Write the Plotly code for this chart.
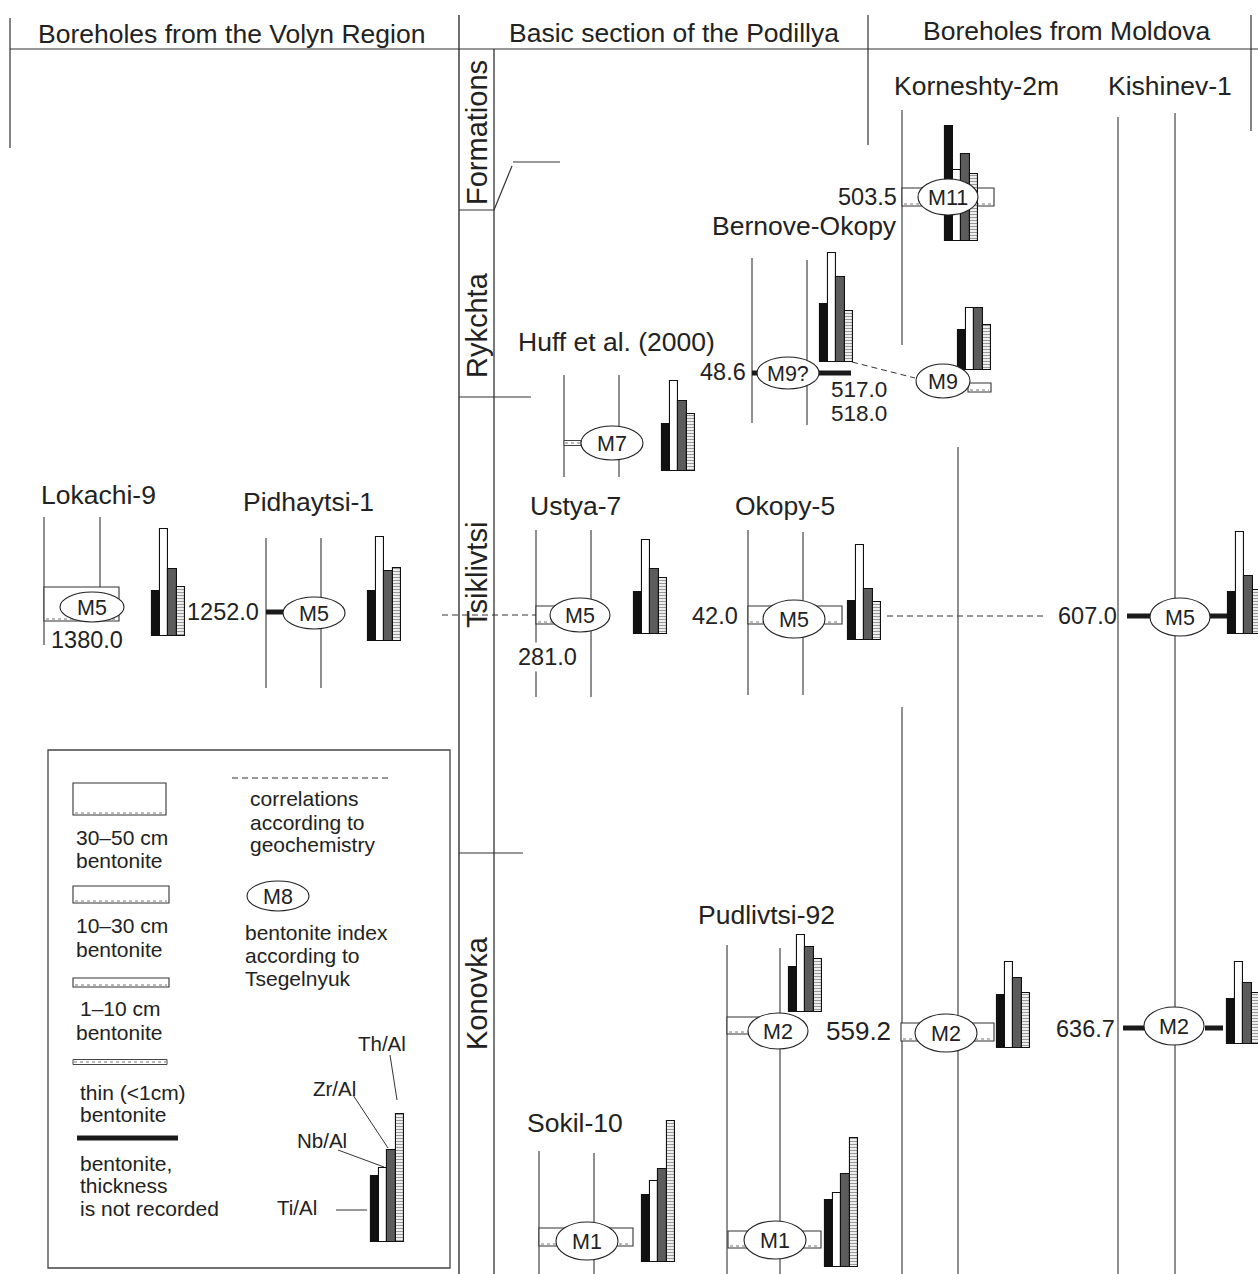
import plotly.graph_objects as go

W, H = 1258, 1274
FONT = "Liberation Sans, Arial, sans-serif"
INK = "#222222"
LINE = "#333333"

# ---- geochemical ratios of each bentonite (bar heights, relative units) ----
samples = ["Lokachi-9 M5", "Pidhaytsi-1 M5", "Huff M7", "Bernove-Okopy M9?",
           "Korneshty-2m M11", "Korneshty-2m M9", "Ustya-7 M5", "Okopy-5 M5",
           "Kishinev-1 M5", "Korneshty-2m M2", "Kishinev-1 M2", "Pudlivtsi-92 M2",
           "Sokil-10 M1", "Pudlivtsi-92 M1", "legend"]
ti_al = [45, 50, 47, 58, 115, 40, 42, 39, 42, 53, 45, 45, 67, 67, 66]
nb_al = [107, 104, 90, 109, 71, 62, 94, 95, 102, 86, 82, 77, 81, 74, 74]
zr_al = [67, 70, 70, 85, 87, 62, 65, 51, 58, 70, 61, 65, 93, 93, 92]
th_al = [49, 73, 57, 51, 67, 45, 56, 38, 44, 55, 51, 53, 141, 129, 128]

# placement of each bar group: left edge and baseline (page pixels)
group_left = [152, 368, 662, 820, 945, 958, 634, 848, 1228, 997, 1227, 789, 642, 825, 371]
group_base = [636, 641, 471, 362, 241, 370, 634, 640, 634, 1048, 1044, 1012, 1262, 1267, 1242]
BW = 8.2

# ---- boreholes ----
names = ["Lokachi-9", "Pidhaytsi-1", "Huff et al. (2000)", "Bernove-Okopy",
         "Korneshty-2m", "Kishinev-1", "Ustya-7", "Okopy-5", "Pudlivtsi-92", "Sokil-10"]
name_pos = [(98, 495), (308, 502), (616, 342), (804, 226), (976, 86), (1170, 86),
            (575, 506), (785, 506), (766, 915), (575, 1123)]

# borehole walls: (x, y_top, y_bottom)
walls = [(44, 517, 645), (100, 517, 587), (266, 538, 688), (321, 538, 688),
         (564, 375, 477), (619, 375, 477), (752, 258, 423), (807, 260, 425),
         (902, 110, 345), (902, 707, 1274), (958, 447, 1274),
         (1118, 117, 1274), (1175, 113, 1274), (536, 530, 697), (591, 530, 697),
         (748, 530, 695), (803, 532, 695), (727, 945, 1274), (780, 948, 1274),
         (539, 1151, 1274), (594, 1153, 1274)]

# bentonite beds drawn as boxes: (x0, y0, x1, y1)
beds = [(44, 587, 119, 621), (536, 606, 600, 624), (748, 606, 842, 624),
        (902, 188, 994, 206), (901, 1023, 994, 1041), (727, 1017, 760, 1034),
        (539, 1228, 633, 1246), (728, 1231, 821, 1248), (968, 383, 991, 392)]
# bentonite without recorded thickness: (x0, x1, y)
bold_beds = [(266, 283, 612), (752, 760, 373), (819, 851, 373),
             (1127, 1150, 616), (1210, 1227, 616), (1123, 1145, 1028), (1205, 1223, 1028)]
# thin (<1 cm) bentonite: (x0, x1, y)
thin_beds = [(564, 581, 443)]

# bentonite index ellipses: (cx, cy, rx, ry, label)
marks = [(92, 607, 32, 15, "M5"), (314, 613, 31, 16, "M5"), (612, 443, 31, 17, "M7"),
         (788, 373, 31, 16, "M9?"), (948, 197, 30, 18, "M11"), (943, 381, 27, 17, "M9"),
         (580, 615, 30, 17, "M5"), (794, 619, 31, 19, "M5"), (1180, 617, 30, 19, "M5"),
         (946, 1033, 31, 19, "M2"), (1174, 1026, 30, 19, "M2"), (778, 1031, 30, 18, "M2"),
         (587, 1241, 31, 19, "M1"), (775, 1240, 31, 19, "M1"), (278, 896, 31, 15, "M8")]

# depths (m): (text, x, y, anchor, size)
depths = [("1380.0", 87, 640, "center", 23.5), ("1252.0", 261, 612, "right", 23.5),
          ("48.6", 748, 372, "right", 23.5), ("517.0", 859, 389, "center", 22.5),
          ("518.0", 859, 413, "center", 22.5), ("503.5", 899, 197, "right", 23.5),
          ("281.0", 547, 657, "center", 23.5), ("42.0", 740, 616, "right", 23.5),
          ("607.0", 1119, 616, "right", 23.5), ("559.2", 893, 1031, "right", 26),
          ("636.7", 1117, 1029, "right", 23.5)]

formations = ["Formations", "Rykchta", "Tsiklivtsi", "Konovka"]
formation_y = [133, 325, 575, 993]

headers = ["Boreholes from the Volyn Region", "Basic section of the Podillya",
           "Boreholes from Moldova"]
header_pos = [(231, 34), (674, 33), (1066, 31)]

fig = go.Figure()

# mini bar charts: Ti/Al, Nb/Al, Zr/Al, Th/Al
bar_styles = [
    ("Ti/Al", ti_al, dict(color="#111111")),
    ("Nb/Al", nb_al, dict(color="#ffffff")),
    ("Zr/Al", zr_al, dict(color="#5c5c5c")),
    ("Th/Al", th_al, dict(color="#ffffff",
                          pattern=dict(shape="-", fgcolor="#333333", bgcolor="#ffffff",
                                       size=3, solidity=0.45))),
]
for k, (nm, vals, mk) in enumerate(bar_styles):
    fig.add_trace(go.Bar(
        name=nm,
        x=[gx + (k + 0.5) * BW for gx in group_left],
        y=[-v for v in vals],
        base=group_base,
        width=BW,
        marker=dict(line=dict(color="#111111", width=1.1), **mk),
        hovertext=samples,
        showlegend=False,
    ))

shapes = []


def seg(x0, y0, x1, y1, w=1.2, color=LINE, dash=None, layer="below"):
    ln = dict(color=color, width=w)
    if dash:
        ln["dash"] = dash
    shapes.append(dict(type="line", xref="x", yref="y", x0=x0, y0=y0, x1=x1, y1=y1,
                       line=ln, layer=layer))


def bed_box(x0, y0, x1, y1, layer="below"):
    shapes.append(dict(type="rect", xref="x", yref="y", x0=x0, y0=y0, x1=x1, y1=y1,
                       fillcolor="white", line=dict(color=LINE, width=1.1), layer=layer))
    seg(x0 + 2, y1 - 2, x1 - 2, y1 - 2, w=1, color="#777777", dash="dot", layer=layer)


def thin_bed(x0, x1, y, layer="below"):
    shapes.append(dict(type="rect", xref="x", yref="y", x0=x0, y0=y - 2.5, x1=x1, y1=y + 2.5,
                       fillcolor="white", line=dict(color="#444444", width=1), layer=layer))
    seg(x0 + 1, y, x1 - 1, y, w=1, color="#777777", dash="dot", layer=layer)


# frame of the correlation panel
seg(10, 18, 10, 148)
seg(10, 49, W, 49)
seg(459, 15, 459, H, w=1.4)
seg(494, 49, 494, H, w=1.3)
seg(868, 15, 868, 145)
seg(1251, 15, 1251, 131)
seg(459, 210, 494, 210)
seg(494, 210, 512, 166)
seg(513, 162, 560, 162)
seg(459, 397, 531, 397)
seg(459, 853, 523, 853)

# borehole walls
for x, y0, y1 in walls:
    seg(x, y0, x, y1, w=1.1)

# correlation lines
seg(442, 615, 536, 615, w=1, dash="6px,4px")
seg(887, 616, 1045, 616, w=1, dash="6px,4px")
seg(852, 362, 915, 378, w=1, dash="6px,4px")

for b in beds:
    bed_box(*b)
for x0, x1, y in bold_beds:
    seg(x0, y, x1, y, w=5, color="#1a1a1a")
for x0, x1, y in thin_beds:
    thin_bed(x0, x1, y)

# legend frame and symbols
shapes.append(dict(type="rect", xref="x", yref="y", x0=48, y0=750, x1=450, y1=1268,
                   line=dict(color="#444444", width=1.3), layer="below"))
bed_box(73, 783, 166, 815)
bed_box(73, 886, 169, 903)
bed_box(73, 978, 169, 987)
thin_bed(73, 167, 1062)
seg(77, 1138, 178, 1138, w=5, color="#1a1a1a")
seg(232, 778, 388, 778, w=1, dash="6px,4px")
# leaders to the legend bars
seg(390, 1055, 397, 1100, w=1)
seg(353, 1095, 388, 1148, w=1)
seg(338, 1150, 384, 1167, w=1)
seg(336, 1210, 367, 1210, w=1)

# index ellipses
for cx, cy, rx, ry, lab in marks:
    shapes.append(dict(type="circle", xref="x", yref="y", x0=cx - rx, y0=cy - ry,
                       x1=cx + rx, y1=cy + ry, fillcolor="white",
                       line=dict(color="#222222", width=1.1), layer="above"))

ann = []


def txt(s, x, y, size, anchor="center", angle=0, bg=None, family=FONT):
    a = dict(text=s, x=x, y=y, xref="x", yref="y", showarrow=False,
             xanchor=anchor, yanchor="middle", textangle=angle,
             font=dict(family=family, size=size, color=INK))
    if bg:
        a["bgcolor"] = bg
    ann.append(a)


for s, (x, y) in zip(headers, header_pos):
    txt(s, x, y, 26.5)
for s, (x, y) in zip(names, name_pos):
    txt(s, x, y, 26.5)
for s, y in zip(formations, formation_y):
    txt(s, 477, y, 29, angle=-90)
for s, x, y, anc, sz in depths:
    txt(s, x, y, sz, anchor=anc, bg="white" if s == "281.0" else None)
for cx, cy, rx, ry, lab in marks:
    txt(lab, cx, cy + 1, 21.5)

legend_lines = [("30–50 cm", 74, 837), ("bentonite", 74, 860),
                ("10–30 cm", 74, 925), ("bentonite", 74, 949),
                ("1–10 cm", 78, 1008), ("bentonite", 74, 1032),
                ("thin (<1cm)", 78, 1092), ("bentonite", 78, 1114),
                ("bentonite,", 78, 1163), ("thickness", 78, 1185),
                ("is not recorded", 78, 1208),
                ("correlations", 248, 798), ("according to", 248, 822),
                ("geochemistry", 248, 844),
                ("bentonite index", 243, 932), ("according to", 243, 955),
                ("Tsegelnyuk", 243, 978)]
for s, x, y in legend_lines:
    txt(s, x, y, 21, anchor="left")

ratio_labels = [("Th/Al", 382, 1043), ("Zr/Al", 334, 1088), ("Nb/Al", 322, 1140),
                ("Ti/Al", 297, 1207)]
for s, x, y in ratio_labels:
    txt(s, x, y, 20.5)

fig.update_layout(
    width=W, height=H,
    margin=dict(l=0, r=0, t=0, b=0),
    paper_bgcolor="white", plot_bgcolor="white",
    barmode="overlay", bargap=0,
    xaxis=dict(range=[0, W], visible=False, fixedrange=True),
    yaxis=dict(range=[H, 0], visible=False, fixedrange=True),
    shapes=shapes, annotations=ann,
    showlegend=False,
)

fig.write_html("out.html", config=dict(displayModeBar=False))
